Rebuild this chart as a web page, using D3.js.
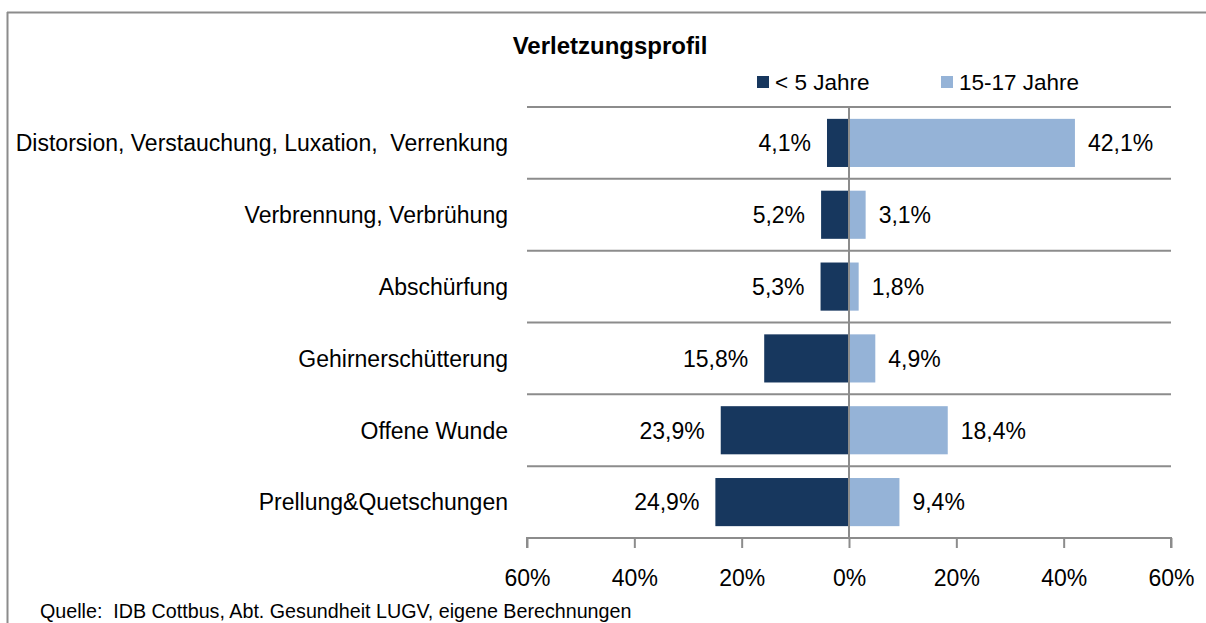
<!DOCTYPE html>
<html>
<head>
<meta charset="utf-8">
<script src="https://cdn.jsdelivr.net/npm/d3@7"></script>
<style>
  html, body { margin: 0; background: #fff; overflow: hidden; }
  svg { display: block; font-family: "Liberation Sans", Arial, sans-serif; }
</style>
</head>
<body>
<div id="chart"></div>
<script>
// data
const categories = [
    "Distorsion, Verstauchung, Luxation,  Verrenkung",
    "Verbrennung, Verbrühung",
    "Abschürfung",
    "Gehirnerschütterung",
    "Offene Wunde",
    "Prellung&Quetschungen"
];
const under5 = [4.1, 5.2, 5.3, 15.8, 23.9, 24.9];
const age15to17 = [42.1, 3.1, 1.8, 4.9, 18.4, 9.4];
const seriesNames = ["< 5 Jahre", "15-17 Jahre"];
const tickValues = [-60, -40, -20, 0, 20, 40, 60];

const W = 1206, H = 623;
const margin = { top: 107, right: 35, bottom: 85, left: 527 };
const colors = ["#17375e", "#95b3d7"];
const gridColor = "#8c8c8c";

const svg = d3.select("#chart").append("svg")
    .attr("width", W)
    .attr("height", H);

// outer chart frame (only top + left edges are inside the picture)
svg.append("line")
    .attr("x1", 7.5).attr("x2", 7.5).attr("y1", 12).attr("y2", H)
    .attr("stroke", gridColor).attr("stroke-width", 2);
svg.append("line")
    .attr("x1", 7).attr("x2", W).attr("y1", 12.5).attr("y2", 12.5)
    .attr("stroke", gridColor).attr("stroke-width", 2);

const x = d3.scaleLinear().domain([-60, 60]).range([margin.left, W - margin.right]);
const y = d3.scaleBand().domain(categories)
    .range([margin.top, H - margin.bottom])
    .paddingInner(0.33).paddingOuter(0.165);

const rowTop = c => y(c) - y.step() * y.paddingInner() / 2;

// horizontal separators between categories
svg.selectAll(".grid")
    .data(categories)
    .enter().append("line")
    .attr("x1", x(-60)).attr("x2", x(60))
    .attr("y1", d => rowTop(d)).attr("y2", d => rowTop(d))
    .attr("stroke", gridColor).attr("stroke-width", 2);

// bottom axis
const xAxis = svg.append("g")
    .attr("transform", `translate(0, ${y.range()[1]})`)
    .call(d3.axisBottom(x).tickValues(tickValues).tickSize(10).tickPadding(22)
        .tickFormat(d => Math.abs(d) + "%"));
xAxis.select(".domain").attr("stroke", gridColor).attr("stroke-width", 2)
    .attr("d", `M${x(-60)},10V0H${x(60)}V10`);
xAxis.selectAll(".tick line").attr("stroke", gridColor).attr("stroke-width", 2);
xAxis.selectAll(".tick text")
    .style("font-size", "23px")
    .style("font-family", "'Liberation Sans', Arial, sans-serif")
    .attr("fill", "#000");

// bars
svg.selectAll(".bar-left")
    .data(categories)
    .enter().append("rect")
    .attr("x", (d, i) => x(-under5[i]))
    .attr("y", d => y(d))
    .attr("width", (d, i) => x(0) - x(-under5[i]))
    .attr("height", y.bandwidth())
    .attr("fill", colors[0]);

svg.selectAll(".bar-right")
    .data(categories)
    .enter().append("rect")
    .attr("x", x(0))
    .attr("y", d => y(d))
    .attr("width", (d, i) => x(age15to17[i]) - x(0))
    .attr("height", y.bandwidth())
    .attr("fill", colors[1]);

// zero line
svg.append("line")
    .attr("x1", x(0)).attr("x2", x(0))
    .attr("y1", y.range()[0]).attr("y2", y.range()[1])
    .attr("stroke", gridColor).attr("stroke-width", 2);

const fmt = v => v.toFixed(1).replace(".", ",") + "%";

// value labels
svg.selectAll(".lbl-left")
    .data(categories)
    .enter().append("text")
    .attr("x", (d, i) => x(-under5[i]) - 16)
    .attr("y", d => y(d) + y.bandwidth() / 2)
    .attr("dy", "0.36em")
    .attr("text-anchor", "end")
    .style("font-size", "23px")
    .text((d, i) => fmt(under5[i]));

svg.selectAll(".lbl-right")
    .data(categories)
    .enter().append("text")
    .attr("x", (d, i) => x(age15to17[i]) + 13)
    .attr("y", d => y(d) + y.bandwidth() / 2)
    .attr("dy", "0.36em")
    .style("font-size", "23px")
    .text((d, i) => fmt(age15to17[i]));

// category labels
svg.selectAll(".cat")
    .data(categories)
    .enter().append("text")
    .attr("x", 508)
    .attr("y", d => y(d) + y.bandwidth() / 2)
    .attr("dy", "0.36em")
    .attr("text-anchor", "end")
    .style("font-size", "23px")
    .style("white-space", "pre")
    .text(d => d);

// title
svg.append("text")
    .attr("x", 610)
    .attr("y", 54)
    .attr("text-anchor", "middle")
    .style("font-size", "24px")
    .style("font-weight", "bold")
    .text("Verletzungsprofil");

// legend
const legendX = [757, 941];
seriesNames.forEach((name, i) => {
    svg.append("rect")
        .attr("x", legendX[i]).attr("y", 76)
        .attr("width", 12).attr("height", 12)
        .attr("fill", colors[i]);
    svg.append("text")
        .attr("x", legendX[i] + 18).attr("y", 82)
        .attr("dy", "0.36em")
        .style("font-size", "22.5px")
        .text(name);
});

// source
svg.append("text")
    .attr("x", 40)
    .attr("y", 618)
    .style("font-size", "19.7px")
    .style("white-space", "pre")
    .text("Quelle:  IDB Cottbus, Abt. Gesundheit LUGV, eigene Berechnungen");
</script>
</body>
</html>
